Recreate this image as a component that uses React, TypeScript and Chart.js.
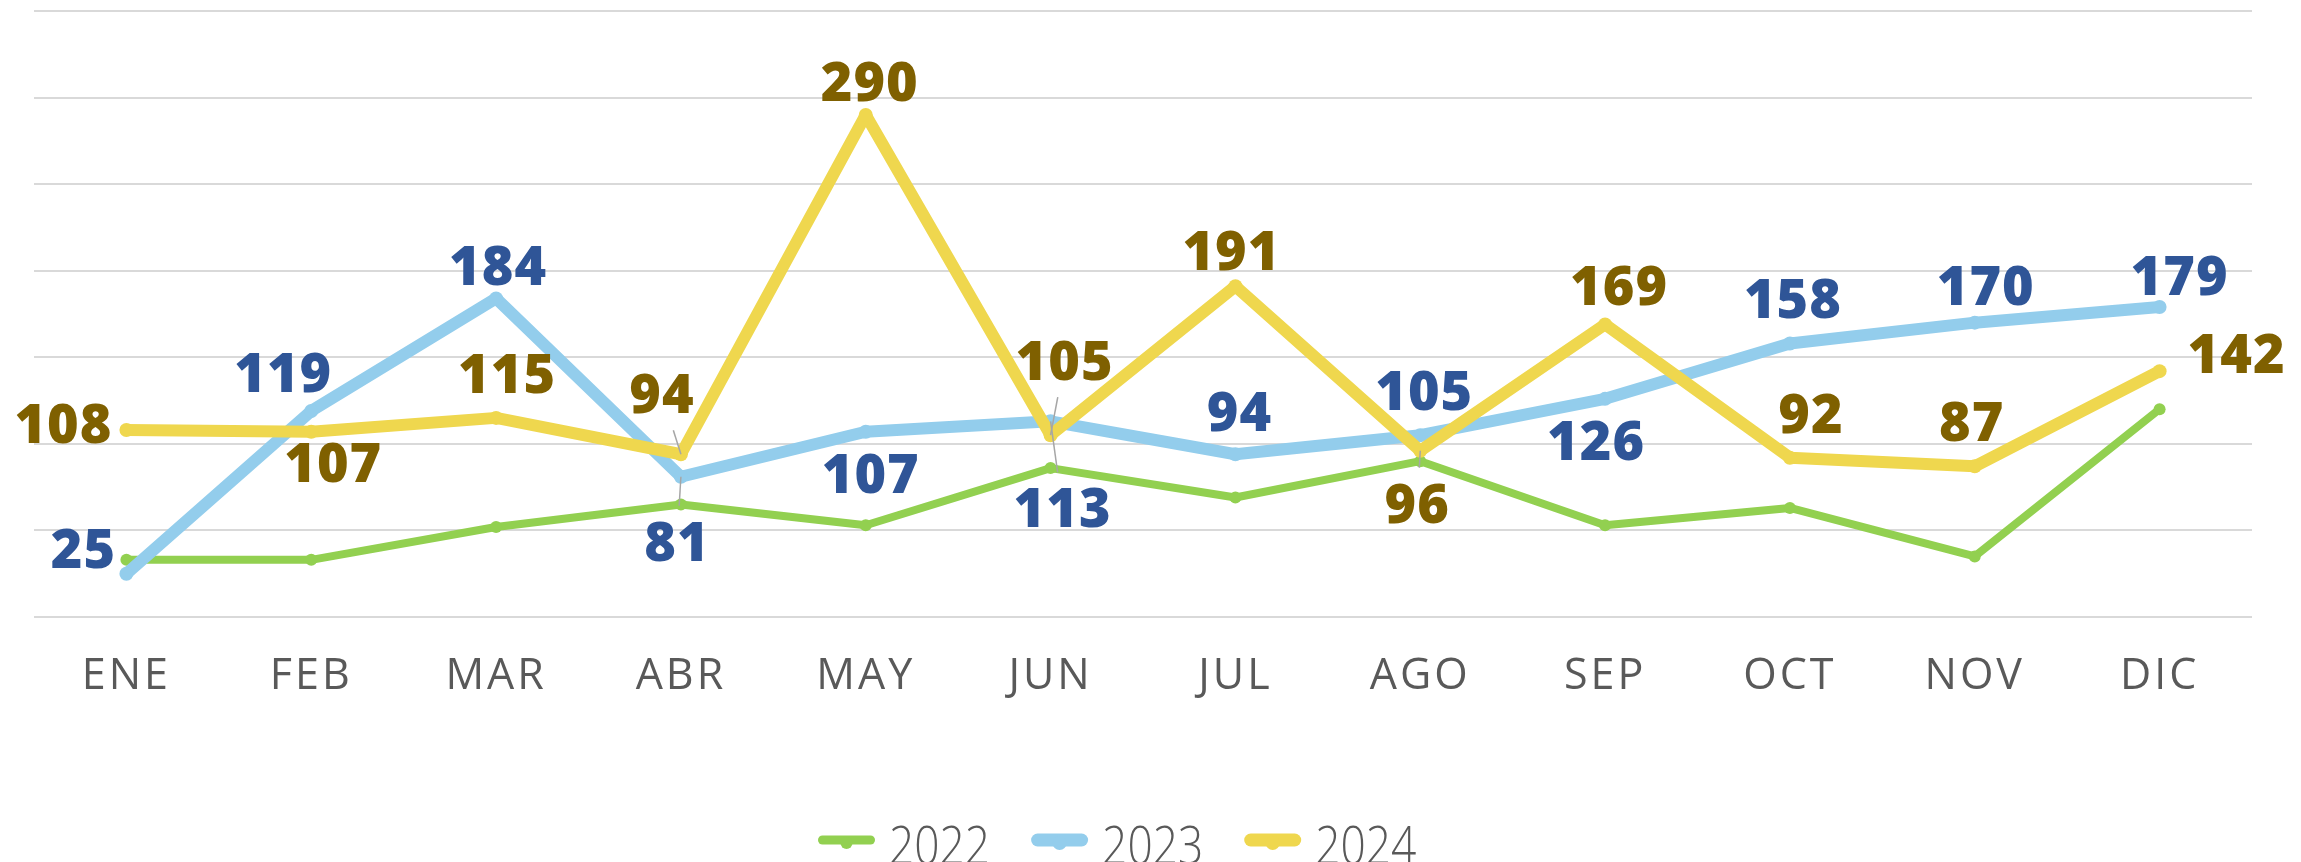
import React, { useEffect, useRef } from 'react';
import { Chart, registerables } from 'chart.js';

Chart.register(...registerables);

// ---------- DATA ----------
const months = ['ENE', 'FEB', 'MAR', 'ABR', 'MAY', 'JUN', 'JUL', 'AGO', 'SEP', 'OCT', 'NOV', 'DIC'];
const seriesNames = ['2022', '2023', '2024'];
const values2022 = [33, 33, 52, 65, 53, 86, 69, 90, 53, 63, 35, 120];
const values2023 = [25, 119, 184, 81, 107, 113, 94, 105, 126, 158, 170, 179];
const values2024 = [108, 107, 115, 94, 290, 105, 191, 96, 169, 92, 87, 142];
const yMin = 0;
const yMax = 350;
const yStep = 50;

// ---------- LABEL LAYOUT (pixel offsets of label centres from their points) ----------
const labelOffsets2023: [number, number][] = [
  [-43, -25], [-28, -38], [2, -32], [-4, 65], [5, 42], [12, 87],
  [4, -42], [4, -44], [-9, 42], [3, -44], [11, -37], [20, -31],
];
const labelOffsets2024: [number, number][] = [
  [-63, -6], [22, 31], [11, -44], [-19, -60], [4, -33], [14, -74],
  [-4, -35], [-3, 53], [14, -38], [21, -44], [-3, -44], [77, -17],
];
const leaders2023 = [false, false, false, true, false, true, false, false, false, false, false, false];
const leaders2024 = [false, false, false, true, false, true, false, true, false, false, false, false];

// ---------- STYLE ----------
const GREEN = '#92D050';
const BLUE = '#93CDEC';
const YELLOW = '#EFD74E';
const LABEL_BLUE = '#2F5597';
const LABEL_BROWN = '#7F6000';
const AXIS_TEXT = '#595959';
const GRID = '#D9D9D9';
const FONT = '"Open Sans", "DejaVu Sans", sans-serif';

const W = 2301;
const H = 862;

const valueLabelPlugin = {
  id: 'valueLabelPlugin',
  beforeDraw(chart: any) {
    try { chart.ctx.letterSpacing = '3px'; } catch (e) { /* ignore */ }
  },
  beforeDatasetsDraw(chart: any) {
    try { chart.ctx.letterSpacing = '0px'; } catch (e) { /* ignore */ }
  },
  afterDatasetsDraw(chart: any) {
    const ctx = chart.ctx as CanvasRenderingContext2D;
    chart.data.datasets.forEach((ds: any, di: number) => {
      const cfg = ds.valueLabels;
      if (!cfg) return;
      const meta = chart.getDatasetMeta(di);
      ctx.save();
      try { (ctx as any).letterSpacing = '1px'; } catch (e) { /* ignore */ }
      ctx.font = `800 54px ${FONT}`;
      ctx.textAlign = 'center';
      ctx.textBaseline = 'alphabetic';
      meta.data.forEach((pt: any, i: number) => {
        const [dx, dy] = cfg.offsets[i];
        const cx = pt.x + dx;
        const cy = pt.y + dy;
        const text = String(ds.data[i]);
        if (cfg.leaders[i]) {
          const halfW = ctx.measureText(text).width / 2 + 6;
          const halfH = 19 + 17;
          const vx = cx - pt.x;
          const vy = cy - pt.y;
          const tx = vx !== 0 ? (Math.abs(vx) - halfW) / Math.abs(vx) : -Infinity;
          const ty = vy !== 0 ? (Math.abs(vy) - halfH) / Math.abs(vy) : -Infinity;
          const t = Math.max(0.15, Math.max(tx, ty));
          ctx.save();
          ctx.strokeStyle = '#A6A6A6';
          ctx.lineWidth = 1.5;
          ctx.beginPath();
          ctx.moveTo(pt.x, pt.y);
          ctx.lineTo(pt.x + vx * t, pt.y + vy * t);
          ctx.stroke();
          ctx.restore();
        }
        ctx.fillStyle = cfg.color;
        ctx.fillText(text, cx, cy + 19);
      });
      ctx.restore();
    });
  },
  afterDraw(chart: any) {
    const ctx = chart.ctx as CanvasRenderingContext2D;
    ctx.save();
    try { (ctx as any).letterSpacing = '0px'; } catch (e) { /* ignore */ }
    let x = 818;
    const yLine = 840;
    const lineLen = 57;
    const sx = 0.82;
    chart.data.datasets.forEach((ds: any) => {
      const lw = ds.borderWidth + 1;
      ctx.strokeStyle = ds.borderColor;
      ctx.lineWidth = lw;
      ctx.lineCap = 'round';
      ctx.beginPath();
      ctx.moveTo(x + lw / 2, yLine);
      ctx.lineTo(x + lineLen - lw / 2, yLine);
      ctx.stroke();
      ctx.fillStyle = ds.borderColor;
      ctx.beginPath();
      ctx.arc(x + lineLen / 2, yLine + 3, ds.pointRadius, 0, Math.PI * 2);
      ctx.fill();
      ctx.save();
      ctx.font = `300 54px ${FONT}`;
      ctx.fillStyle = AXIS_TEXT;
      ctx.textAlign = 'left';
      ctx.textBaseline = 'alphabetic';
      const tw = ctx.measureText(ds.label).width * sx;
      ctx.translate(x + 71, 864);
      ctx.scale(sx, 1);
      ctx.fillText(ds.label, 0, 0);
      ctx.restore();
      x += 71 + tw + 41;
    });
    ctx.restore();
  },
};

export default function App() {
  const canvasRef = useRef<HTMLCanvasElement | null>(null);

  useEffect(() => {
    const canvas = canvasRef.current;
    if (!canvas) return;
    const chart = new Chart(canvas, {
      type: 'line',
      data: {
        labels: months,
        datasets: [
          {
            label: seriesNames[0],
            data: values2022,
            borderColor: GREEN,
            backgroundColor: GREEN,
            borderWidth: 8,
            pointRadius: 6,
            pointBorderWidth: 0,
            pointBackgroundColor: GREEN,
            borderCapStyle: 'round',
            borderJoinStyle: 'round',
            tension: 0,
            order: 2,
          },
          {
            label: seriesNames[1],
            data: values2023,
            borderColor: BLUE,
            backgroundColor: BLUE,
            borderWidth: 12,
            pointRadius: 7,
            pointBorderWidth: 0,
            pointBackgroundColor: BLUE,
            borderCapStyle: 'round',
            borderJoinStyle: 'round',
            tension: 0,
            order: 1,
            valueLabels: { color: LABEL_BLUE, offsets: labelOffsets2023, leaders: leaders2023 },
          } as any,
          {
            label: seriesNames[2],
            data: values2024,
            borderColor: YELLOW,
            backgroundColor: YELLOW,
            borderWidth: 12,
            pointRadius: 7,
            pointBorderWidth: 0,
            pointBackgroundColor: YELLOW,
            borderCapStyle: 'round',
            borderJoinStyle: 'round',
            tension: 0,
            order: 0,
            valueLabels: { color: LABEL_BROWN, offsets: labelOffsets2024, leaders: leaders2024 },
          } as any,
        ],
      },
      options: {
        responsive: false,
        maintainAspectRatio: false,
        animation: false,
        devicePixelRatio: 1,
        events: [],
        layout: {
          autoPadding: false,
          padding: { left: 34, right: 49, top: 11, bottom: 0 },
        },
        plugins: {
          legend: { display: false },
          tooltip: { enabled: false },
          title: { display: false },
        },
        scales: {
          x: {
            type: 'category',
            offset: true,
            grid: { display: false, drawTicks: false },
            border: { display: false },
            ticks: {
              autoSkip: false,
              maxRotation: 0,
              color: AXIS_TEXT,
              padding: 34,
              font: { family: FONT, size: 43, weight: '400' as any },
            },
            afterFit(scale: any) {
              scale.height = 245;
            },
          },
          y: {
            min: yMin,
            max: yMax,
            grid: { color: GRID, lineWidth: 2, drawTicks: false },
            border: { display: false },
            ticks: { display: false, stepSize: yStep },
            afterFit(scale: any) {
              scale.width = 0;
            },
          },
        },
      } as any,
      plugins: [valueLabelPlugin],
    });
    return () => chart.destroy();
  }, []);

  return (
    <div style={{ position: 'absolute', left: 0, top: 0, width: W, height: H, background: '#fff' }}>
      <canvas ref={canvasRef} width={W} height={H} style={{ display: 'block', width: W, height: H }} />
    </div>
  );
}
